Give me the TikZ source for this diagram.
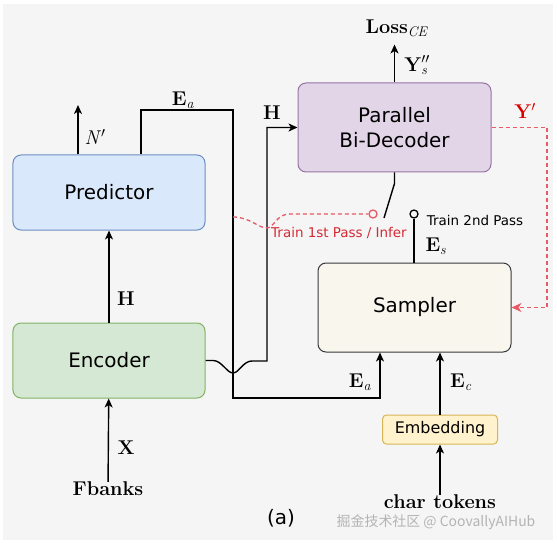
\documentclass[tikz,border=0pt]{standalone}
\usepackage{fontspec}
\newfontfamily\boxfont{DejaVu Sans}
\newfontfamily\cjkfont{Noto Sans CJK SC}
\usetikzlibrary{arrows.meta,calc}

\definecolor{bggray}{HTML}{F5F5F5}
\definecolor{predfill}{HTML}{DAE8FC}
\definecolor{preddraw}{HTML}{6C8EBF}
\definecolor{encfill}{HTML}{D5E8D4}
\definecolor{encdraw}{HTML}{82B366}
\definecolor{decfill}{HTML}{E1D5E7}
\definecolor{decdraw}{HTML}{9673A6}
\definecolor{sampfill}{HTML}{F9F7ED}
\definecolor{sampdraw}{HTML}{36393D}
\definecolor{embfill}{HTML}{FFF2CC}
\definecolor{embdraw}{HTML}{D6B656}
\definecolor{passred}{HTML}{E65B66}
\definecolor{labred}{HTML}{D42A35}
\definecolor{markgray}{HTML}{B4B4B4}

% bold vector with italic subscript / primes
\newcommand{\vecsub}[2]{\textbf{#1}\textsubscript{\textit{#2}}}
\newcommand{\onep}{\textsuperscript{$\prime$}}
\newcommand{\twop}{\textsuperscript{$\prime\prime$}}

\tikzset{
    block/.style={draw, rounded corners=8bp, line width=1bp, align=center,
        font=\boxfont\fontsize{20}{25}\selectfont},
    conn/.style={line width=1.4bp},
    arr/.style={conn, -{Stealth[length=9bp,width=8bp,inset=2.5bp]}},
    lbl/.style={font=\fontsize{20}{24}\selectfont, inner sep=0pt},
    passdash/.style={line width=1.3bp, passred, dash pattern=on 4bp off 3bp},
    contact/.style={circle, draw, line width=1.3bp, inner sep=0pt, minimum size=8bp}
}

\begin{document}
\begin{tikzpicture}[x=1bp, y=-1bp]
    % variables
    \def\boxW{192bp}
    \def\boxH{75bp}
    \def\bigH{89bp}

    % canvas
    \useasboundingbox (0,0) rectangle (557,545);
    \fill[bggray] (3,4) rectangle (553,540);

    % blocks
    \node[block, fill=predfill, draw=preddraw, minimum width=\boxW, minimum height=\boxH] (pred) at (109,192.5) {Predictor};
    \node[block, fill=encfill, draw=encdraw, minimum width=\boxW, minimum height=\boxH] (enc) at (109,360.5) {Encoder};
    \node[block, fill=decfill, draw=decdraw, minimum width=193bp, minimum height=\bigH] (dec) at (394.5,127.5) {Parallel\\Bi-Decoder};
    \node[block, fill=sampfill, draw=sampdraw, minimum width=193bp, minimum height=\bigH] (samp) at (414.5,307.5) {Sampler};
    \node[block, fill=embfill, draw=embdraw, rounded corners=4bp, minimum width=115bp, minimum height=29bp,
        font=\boxfont\fontsize{16}{19}\selectfont] (emb) at (440,429.5) {Embedding};

    % inputs and output
    \node[lbl] (fbanks) at (108,489) {\textbf{Fbanks}};
    \node[lbl] (chars) at (440,502) {\textbf{char tokens}};
    \node[lbl] (loss) at (397,28) {\vecsub{Loss}{CE}};

    % switch contacts
    \node[contact, draw=passred] (redc) at (373,214) {};
    \node[contact] (blkc) at (414,214) {};
    \coordinate (arm) at (384,218);

    % helper points
    \coordinate (nout) at (78,105);
    \coordinate (eaTop) at (141,110);
    \coordinate (eaBus) at (233,398);
    \coordinate (hBus) at (267,361);
    \coordinate (yBus) at (547,220);

    % main flow
    \draw[arr] (fbanks) -- (enc);
    \draw[arr] (enc) -- (pred);
    \draw[arr] (pred.north -| nout) -- (nout);
    \draw[arr] (chars) -- (emb);
    \draw[arr] (emb.north) -- (emb.north |- samp.south);
    \draw[arr] (dec.north) -- ++(0,-38);

    % Ea from predictor to sampler
    \draw[arr] (pred.north -| eaTop) -- (eaTop) -| (eaBus) -- ($(samp.south |- eaBus)+(-34.5,0)$) -- ($(samp.south)+(-34.5,0)$);

    % H from encoder to decoder, jumping over the Ea line
    \draw[arr] (enc.east) -- ++(8,0) .. controls (222,361) and (227,373) .. (233,373)
        .. controls (239,373) and (243,361) .. (252,361) -- (hBus) |- (dec.west);

    % switch
    \draw[conn] (dec.south) -- ++(0,11) -- (arm);
    \draw[conn] (blkc) -- (blkc |- samp.north);
    \draw[passdash] (233,217) .. controls (250,217) and (258,228) .. (267,228)
        .. controls (274,228) and (276,214) .. (290,214) -- (redc);

    % Y' feedback
    \draw[passdash, -{Stealth[length=10bp,width=9bp,inset=3bp]}] (dec.east) -| (yBus) |- (samp.east);

    % labels
    \node[lbl] at (95,137) {\textit{N}\onep};
    \node[lbl] at (183,100) {\vecsub{E}{a}};
    \node[lbl] at (272,113) {\textbf{H}};
    \node[lbl] at (126,299) {\textbf{H}};
    \node[lbl] at (126,448) {\textbf{X}};
    \node[lbl] at (360,382) {\vecsub{E}{a}};
    \node[lbl] at (461,382) {\vecsub{E}{c}};
    \node[lbl] at (436,246) {\vecsub{E}{s}};
    \node[lbl] at (416,65) {\textbf{Y}\rlap{\twop}\textsubscript{\textit{s}}};
    \node[lbl, text=red!85!black] at (525,111) {\textbf{Y}\onep};
    \node[font=\boxfont\fontsize{13.5}{16}\selectfont, inner sep=0pt] at (475,220) {Train 2nd Pass};
    \node[font=\boxfont\fontsize{13.5}{16}\selectfont, inner sep=0pt, text=labred] at (339,233) {Train 1st Pass / Infer};
    \node[font=\boxfont\fontsize{20}{24}\selectfont, inner sep=0pt] at (281,518) {(a)};
    \node[font=\cjkfont\fontsize{14}{17}\selectfont, inner sep=0pt, text=markgray] at (436,522) {掘金技术社区 @ CoovallyAIHub};
\end{tikzpicture}
\end{document}
